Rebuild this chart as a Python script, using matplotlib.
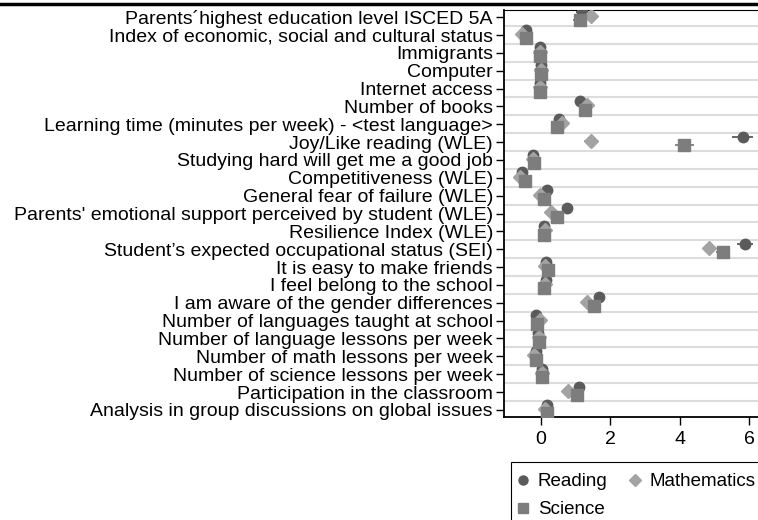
import numpy as np
import matplotlib.pyplot as plt
from matplotlib.lines import Line2D
from matplotlib.patches import Rectangle

plt.rcParams['font.family'] = ['Liberation Sans', 'DejaVu Sans']

labels = [
    "Parents\u00b4highest education level ISCED 5A",
    "Index of economic, social and cultural status",
    "Immigrants",
    "Computer",
    "Internet access",
    "Number of books",
    "Learning time (minutes per week) - <test language>",
    "Joy/Like reading (WLE)",
    "Studying hard will get me a good job",
    "Competitiveness (WLE)",
    "General fear of failure (WLE)",
    "Parents' emotional support perceived by student (WLE)",
    "Resilience Index (WLE)",
    "Student\u2019s expected occupational status (SEI)",
    "It is easy to make friends",
    "I feel belong to the school",
    "I am aware of the gender differences",
    "Number of languages taught at school",
    "Number of language lessons per week",
    "Number of math lessons per week",
    "Number of science lessons per week",
    "Participation in the classroom",
    "Analysis in group discussions on global issues",
]

reading = [1.18, -0.42, -0.02, 0.02, -0.01, 1.13, 0.53, 5.81, -0.21, -0.55, 0.19, 0.77,
           0.10, 5.88, 0.15, 0.14, 1.68, -0.14, -0.07, -0.14, 0.03, 1.10, 0.19]
maths = [1.44, -0.55, -0.02, 0.02, -0.01, 1.34, 0.60, 1.44, -0.21, -0.60, -0.02, 0.29,
         0.12, 4.84, 0.13, 0.12, 1.34, -0.02, -0.04, -0.18, 0.03, 0.78, 0.13]
science = [1.13, -0.42, -0.02, 0.02, -0.01, 1.28, 0.48, 4.13, -0.18, -0.44, 0.10, 0.48,
           0.10, 5.25, 0.22, 0.10, 1.54, -0.10, -0.04, -0.14, 0.05, 1.03, 0.17]

# half-widths of the confidence intervals
reading_ci = [0.16, 0.04, 0.03, 0.03, 0.03, 0.08, 0.06, 0.30, 0.04, 0.04, 0.05, 0.06,
              0.04, 0.22, 0.04, 0.04, 0.08, 0.04, 0.04, 0.04, 0.04, 0.08, 0.05]
maths_ci = [0.15, 0.04, 0.03, 0.03, 0.03, 0.08, 0.06, 0.20, 0.04, 0.04, 0.05, 0.06,
            0.04, 0.18, 0.04, 0.04, 0.08, 0.04, 0.04, 0.04, 0.04, 0.08, 0.05]
science_ci = [0.20, 0.04, 0.03, 0.03, 0.03, 0.08, 0.06, 0.27, 0.04, 0.04, 0.05, 0.06,
              0.04, 0.20, 0.04, 0.04, 0.08, 0.04, 0.04, 0.04, 0.04, 0.08, 0.05]

fig = plt.figure(figsize=(7.58, 5.20), dpi=100)
ax = fig.add_axes([504 / 758, (520 - 417) / 520, (758 - 504) / 758, (417 - 10) / 520])

pos = np.arange(len(labels))

# grid between rows
for g in pos[:-1] + 0.5:
    ax.axhline(g, color="#dcdcdc", lw=1.5, zorder=0)

series = [
    (reading, reading_ci, -0.3, "o", "#5b5b5b", 7.5, "Reading"),
    (maths, maths_ci, -0.06, "D", "#a3a3a3", 7.0, "Mathematics"),
    (science, science_ci, 0.18, "s", "#7d7d7d", 8.5, "Science"),
]
for vals, ci, off, mk, col, ms, name in series:
    ax.errorbar(vals, pos + off, xerr=ci, fmt=mk, color=col, ms=ms, mec=col,
                ecolor=col, elinewidth=1.3, capsize=0, zorder=3, label=name)

ax.set_yticks(pos)
ax.set_yticklabels(labels, fontsize=14)
ax.set_ylim(22.4, -0.4)
ax.set_xlim(-1.056, 6.25)
ax.set_xticks([0, 2, 4, 6])
ax.tick_params(axis="x", labelsize=14, length=6, width=1, pad=4)
ax.tick_params(axis="y", length=6, width=1, pad=2)
ax.spines["right"].set_visible(False)
ax.spines["left"].set_linewidth(1.3)
ax.spines["bottom"].set_linewidth(1.3)
ax.spines["top"].set_linewidth(0.8)

# line under the (cut off) title
fig.add_artist(Line2D([0, 1], [1 - 4 / 520, 1 - 4 / 520], color="black", lw=2.5))

# legend box runs off the right and bottom edges
fig.add_artist(Rectangle((511 / 758, -0.05), 0.5, 0.05 + (520 - 462) / 520,
                         transform=fig.transFigure, fill=False,
                         edgecolor="black", lw=0.8))

# column-first fill: Reading, Science | Mathematics
handles = [
    Line2D([], [], ls="none", marker="o", color="#5b5b5b", ms=6.5),
    Line2D([], [], ls="none", marker="s", color="#7d7d7d", ms=6.5),
    Line2D([], [], ls="none", marker="D", color="#a3a3a3", ms=6.5),
]
leg = fig.legend(handles, ["Reading", "Science", "Mathematics"], ncol=2,
                 loc="upper left", bbox_to_anchor=(515.5 / 758, 1 - 473 / 520),
                 borderaxespad=0, borderpad=0, fontsize=13.5, frameon=False,
                 handlelength=0.8, handletextpad=0.38, columnspacing=1.05,
                 labelspacing=0.6)

plt.savefig("out.png", dpi=100)
